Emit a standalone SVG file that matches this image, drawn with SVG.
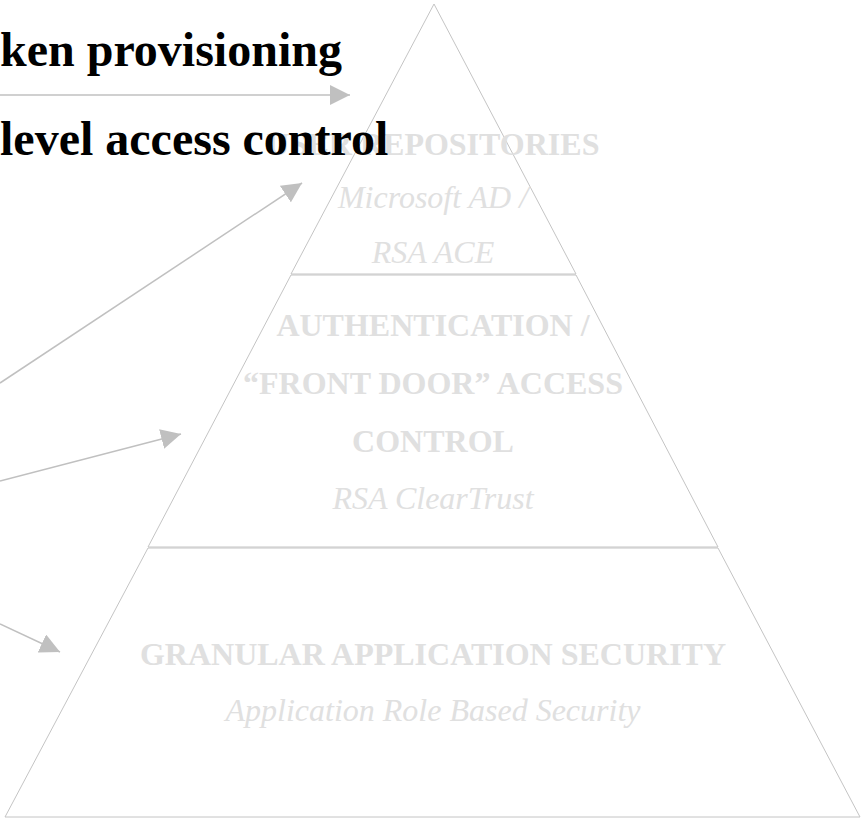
<svg xmlns="http://www.w3.org/2000/svg" width="863" height="819" viewBox="0 0 863 819">
<style>
.shape{fill:none;stroke:#c4c4c4;stroke-width:1}
.lbl{font-family:"Liberation Serif","Times New Roman",serif;font-size:32px;fill:#e0e0e0;text-anchor:middle}
.b{font-weight:bold}
.i{font-style:italic}
.side{font-family:"Liberation Serif","Times New Roman",serif;font-size:48px;font-weight:bold;fill:#000}
.conn{stroke:#c0c0c0;stroke-width:1.5;fill:none}
</style>
<defs>
<marker id="ah" markerUnits="userSpaceOnUse" markerWidth="20" markerHeight="20" refX="20" refY="10" orient="auto" viewBox="0 0 20 20">
<path d="M0,0 L20,10 L0,20 z" fill="#c0c0c0"/>
</marker>
</defs>
<rect width="863" height="819" fill="#fff"/>
<g id="layer-top">
<polygon class="shape" points="434,4 576,274 291,274"/>
<text class="lbl b" x="433" y="155">USER REPOSITORIES</text>
<text class="lbl i" x="433" y="208">Microsoft AD /</text>
<text class="lbl i" x="433" y="263">RSA ACE</text>
</g>
<g id="layer-middle">
<polygon class="shape" points="291,275 576,275 718,547 148,547"/>
<text class="lbl b" x="433" y="336">AUTHENTICATION /</text>
<text class="lbl b" x="433" y="394">“FRONT DOOR” ACCESS</text>
<text class="lbl b" x="433" y="452">CONTROL</text>
<text class="lbl i" x="433" y="509">RSA ClearTrust</text>
</g>
<g id="layer-bottom">
<polygon class="shape" points="148,548 718,548 860,817 5,817"/>
<text class="lbl b" x="433" y="665">GRANULAR APPLICATION SECURITY</text>
<text class="lbl i" x="433" y="721">Application Role Based Security</text>
</g>
<g id="labels">
<text class="side" x="0" y="66">ken provisioning</text>
<text class="side" x="0" y="155">level access control</text>
</g>
<g id="connectors">
<line class="conn" x1="0" y1="95" x2="350" y2="95" marker-end="url(#ah)"/>
<line class="conn" x1="0" y1="383" x2="302" y2="183" marker-end="url(#ah)"/>
<line class="conn" x1="0" y1="481" x2="181" y2="434" marker-end="url(#ah)"/>
<line class="conn" x1="0" y1="624" x2="60" y2="652" marker-end="url(#ah)"/>
</g>
</svg>
